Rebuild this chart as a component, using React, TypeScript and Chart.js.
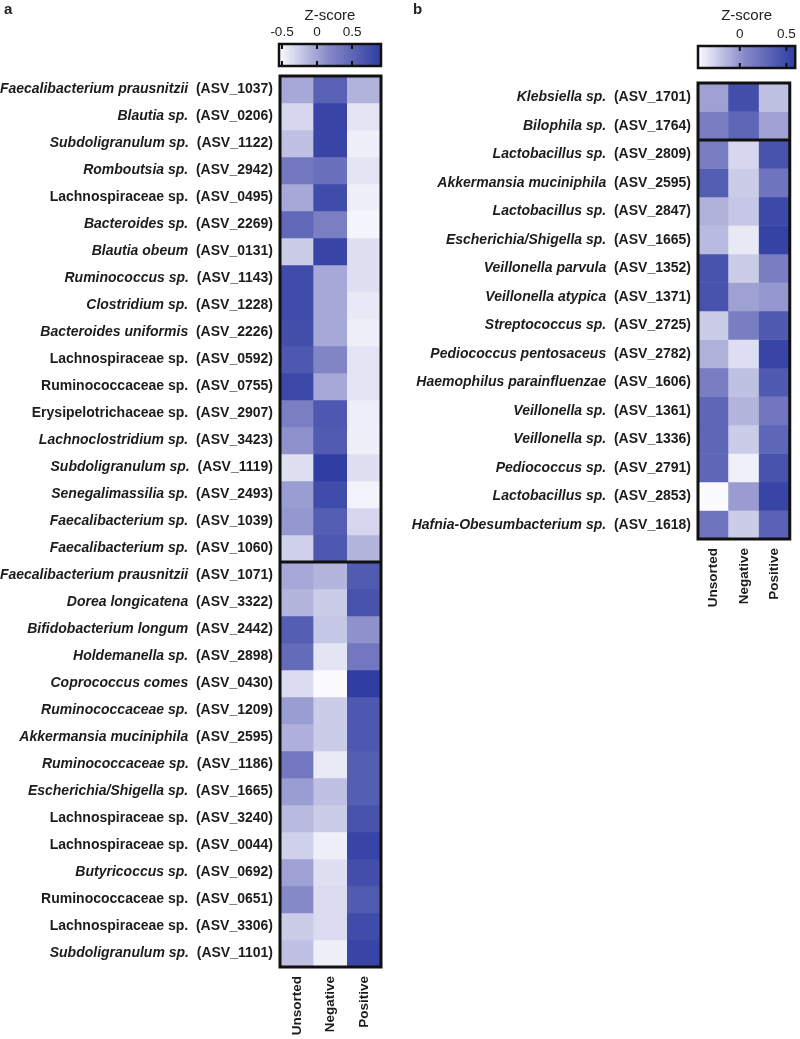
import React, { useEffect, useRef } from "react";
import { Chart, registerables } from "chart.js";

Chart.register(...registerables);

const FAMILY = '"Liberation Sans", Arial, Helvetica, sans-serif';
const COLUMNS = ["Unsorted", "Negative", "Positive"];

// ---------- Panel a ----------
const A_TAXA = [
  "Faecalibacterium prausnitzii", "Blautia sp.", "Subdoligranulum sp.", "Romboutsia sp.",
  "Lachnospiraceae sp.", "Bacteroides sp.", "Blautia obeum", "Ruminococcus sp.",
  "Clostridium sp.", "Bacteroides uniformis", "Lachnospiraceae sp.", "Ruminococcaceae sp.",
  "Erysipelotrichaceae sp.", "Lachnoclostridium sp.", "Subdoligranulum sp.", "Senegalimassilia sp.",
  "Faecalibacterium sp.", "Faecalibacterium sp.", "Faecalibacterium prausnitzii", "Dorea longicatena",
  "Bifidobacterium longum", "Holdemanella sp.", "Coprococcus comes", "Ruminococcaceae sp.",
  "Akkermansia muciniphila", "Ruminococcaceae sp.", "Escherichia/Shigella sp.", "Lachnospiraceae sp.",
  "Lachnospiraceae sp.", "Butyricoccus sp.", "Ruminococcaceae sp.", "Lachnospiraceae sp.",
  "Subdoligranulum sp.",
];
const A_ASV = [
  "1037", "0206", "1122", "2942", "0495", "2269", "0131", "1143", "1228", "2226", "0592",
  "0755", "2907", "3423", "1119", "2493", "1039", "1060", "1071", "3322", "2442", "2898",
  "0430", "1209", "2595", "1186", "1665", "3240", "0044", "0692", "0651", "3306", "1101",
];
const A_ITALIC = [
  1, 1, 1, 1, 0, 1, 1, 1, 1, 1, 0, 0, 0, 1, 1, 1, 1, 1, 1, 1, 1, 1, 1, 1, 1, 1, 1, 0, 0, 1, 0, 0, 1,
];
const A_UNSORTED = [
  -0.03, -0.32, -0.18, 0.33, -0.03, 0.48, -0.25, 0.77, 0.77, 0.74, 0.65, 0.8, 0.26, 0.11, -0.37,
  0.04, 0.07, -0.28, -0.03, -0.11, 0.59, 0.45, -0.35, 0.04, -0.08, 0.33, 0.04, -0.14, -0.28, 0.01,
  0.16, -0.25, -0.18,
];
const A_NEGATIVE = [
  0.55, 0.84, 0.84, 0.4, 0.77, 0.26, 0.84, -0.03, -0.03, -0.03, 0.19, -0.03, 0.65, 0.62, 0.91,
  0.77, 0.59, 0.65, -0.11, -0.25, -0.22, -0.4, -0.54, -0.25, -0.25, -0.44, -0.18, -0.25, -0.47,
  -0.37, -0.35, -0.35, -0.47,
];
const A_POSITIVE = [
  -0.1, -0.4, -0.47, -0.4, -0.47, -0.5, -0.37, -0.37, -0.43, -0.47, -0.4, -0.4, -0.46, -0.47,
  -0.37, -0.49, -0.32, -0.11, 0.62, 0.7, 0.11, 0.33, 0.91, 0.65, 0.65, 0.59, 0.59, 0.7, 0.84,
  0.74, 0.62, 0.77, 0.84,
];
const A_SPLIT = 18;
const A_RANGE = [-0.543, 0.914];
const A_TICKS = [-0.5, 0, 0.5];

// ---------- Panel b ----------
const B_TAXA = [
  "Klebsiella sp.", "Bilophila sp.", "Lactobacillus sp.", "Akkermansia muciniphila",
  "Lactobacillus sp.", "Escherichia/Shigella sp.", "Veillonella parvula", "Veillonella atypica",
  "Streptococcus sp.", "Pediococcus pentosaceus", "Haemophilus parainfluenzae", "Veillonella sp.",
  "Veillonella sp.", "Pediococcus sp.", "Lactobacillus sp.", "Hafnia-Obesumbacterium sp.",
];
const B_ASV = [
  "1701", "1764", "2809", "2595", "2847", "1665", "1352", "1371", "2725", "2782", "1606", "1361",
  "1336", "2791", "2853", "1618",
];
const B_ITALIC = [1, 1, 1, 1, 1, 1, 1, 1, 1, 1, 1, 1, 1, 1, 1, 1];
const B_UNSORTED = [
  -0.05, 0.13, 0.13, 0.37, -0.12, -0.16, 0.44, 0.44, -0.24, -0.12, 0.13, 0.3, 0.3, 0.3, -0.45, 0.2,
];
const B_NEGATIVE = [
  0.47, 0.3, -0.29, -0.24, -0.22, -0.37, -0.24, -0.05, 0.13, -0.32, -0.19, -0.14, -0.24, -0.4,
  -0.03, -0.24,
];
const B_POSITIVE = [
  -0.19, -0.05, 0.44, 0.2, 0.51, 0.56, 0.13, -0.01, 0.39, 0.54, 0.39, 0.18, 0.3, 0.44, 0.54, 0.33,
];
const B_SPLIT = 2;
const B_RANGE = [-0.448, 0.594];
const B_TICKS = [0, 0.5];

// ---------- colour map ----------
const STOPS: [number, number[]][] = [
  [0, [251, 251, 255]],
  [0.5, [130, 133, 198]],
  [1, [48, 62, 163]],
];
function colorAt(t: number): string {
  const tt = Math.max(0, Math.min(1, t));
  for (let i = 0; i < STOPS.length - 1; i++) {
    const [t0, c0] = STOPS[i];
    const [t1, c1] = STOPS[i + 1];
    if (tt <= t1) {
      const f = (tt - t0) / (t1 - t0);
      const c = c0.map((v, k) => Math.round(v + (c1[k] - v) * f));
      return `rgb(${c[0]},${c[1]},${c[2]})`;
    }
  }
  const c = STOPS[STOPS.length - 1][1];
  return `rgb(${c[0]},${c[1]},${c[2]})`;
}
function zColor(z: number, range: number[]): string {
  return colorAt((z - range[0]) / (range[1] - range[0]));
}

const REG = `bold 14px ${FAMILY}`;
const ITAL = `italic bold 14px ${FAMILY}`;

type HeatCfg = {
  taxa: string[];
  asv: string[];
  italic: number[];
  cols: number[][];
  split: number;
  range: number[];
  padding: { left: number; right: number; top: number };
  axisHeight: number;
};

function makeHeatmap(canvas: HTMLCanvasElement, cfg: HeatCfg) {
  const n = cfg.taxa.length;
  const decor = {
    id: "heatDecor",
    afterDraw(chart: any) {
      const { ctx, chartArea: ca } = chart;
      const y = chart.scales.y;
      ctx.save();
      ctx.textBaseline = "middle";
      ctx.fillStyle = "#1c1c1c";
      const xr = ca.left - 7;
      cfg.taxa.forEach((name, i) => {
        const yy = y.getPixelForValue(i + 0.5);
        const tail = `  (ASV_${cfg.asv[i]})`;
        ctx.font = REG;
        ctx.textAlign = "right";
        const w = ctx.measureText(tail).width;
        ctx.fillText(tail, xr, yy);
        ctx.font = cfg.italic[i] ? ITAL : REG;
        ctx.fillText(name, xr - w, yy);
      });
      ctx.strokeStyle = "#111";
      ctx.lineWidth = 3;
      ctx.strokeRect(ca.left, ca.top, ca.right - ca.left, ca.bottom - ca.top);
      const ys = y.getPixelForValue(cfg.split);
      ctx.beginPath();
      ctx.moveTo(ca.left, ys);
      ctx.lineTo(ca.right, ys);
      ctx.stroke();
      ctx.restore();
    },
  };
  return new Chart(canvas, {
    type: "bar",
    data: {
      labels: COLUMNS,
      datasets: cfg.taxa.map((_, i) => ({
        data: [1, 1, 1],
        backgroundColor: cfg.cols.map((col) => zColor(col[i], cfg.range)),
        borderWidth: 0,
        barPercentage: 1,
        categoryPercentage: 1,
      })),
    },
    options: {
      animation: false,
      responsive: false,
      events: [],
      layout: { padding: { left: cfg.padding.left, right: cfg.padding.right, top: cfg.padding.top, bottom: 0 } },
      plugins: { legend: { display: false }, tooltip: { enabled: false } },
      scales: {
        x: {
          type: "category",
          stacked: true,
          grid: { display: false, drawTicks: false },
          border: { display: false },
          afterFit: (s: any) => {
            s.height = cfg.axisHeight;
          },
          ticks: {
            minRotation: 90,
            maxRotation: 90,
            padding: 9,
            color: "#1c1c1c",
            font: { family: FAMILY, size: 13.5, weight: "bold" },
          },
        },
        y: {
          type: "linear",
          stacked: true,
          min: 0,
          max: n,
          reverse: true,
          display: false,
        },
      },
    },
    plugins: [decor],
  } as any);
}

type CbCfg = {
  range: number[];
  ticks: number[];
  padding: { left: number; right: number; bottom: number };
  axisHeight: number;
};

function makeColorbar(canvas: HTMLCanvasElement, cfg: CbCfg) {
  const decor = {
    id: "cbDecor",
    afterDraw(chart: any) {
      const { ctx, chartArea: ca } = chart;
      const x = chart.scales.x;
      ctx.save();
      ctx.strokeStyle = "#111";
      ctx.lineWidth = 2;
      cfg.ticks.forEach((v) => {
        const px = x.getPixelForValue(v);
        ctx.beginPath();
        ctx.moveTo(px, ca.top);
        ctx.lineTo(px, ca.top + 5);
        ctx.moveTo(px, ca.bottom - 5);
        ctx.lineTo(px, ca.bottom);
        ctx.stroke();
      });
      ctx.lineWidth = 2.5;
      ctx.strokeRect(ca.left, ca.top, ca.right - ca.left, ca.bottom - ca.top);
      ctx.restore();
    },
  };
  return new Chart(canvas, {
    type: "bar",
    data: {
      labels: ["Z-score"],
      datasets: [
        {
          data: [[cfg.range[0], cfg.range[1]]],
          backgroundColor: (c: any) => {
            const ca = c.chart.chartArea;
            if (!ca) return "#ffffff";
            const g = c.chart.ctx.createLinearGradient(ca.left, 0, ca.right, 0);
            for (let s = 0; s <= 10; s++) g.addColorStop(s / 10, colorAt(s / 10));
            return g;
          },
          borderWidth: 0,
          barPercentage: 1,
          categoryPercentage: 1,
        },
      ],
    },
    options: {
      indexAxis: "y",
      animation: false,
      responsive: false,
      events: [],
      layout: { padding: { left: cfg.padding.left, right: cfg.padding.right, top: 0, bottom: cfg.padding.bottom } },
      plugins: { legend: { display: false }, tooltip: { enabled: false } },
      scales: {
        x: {
          type: "linear",
          position: "top",
          min: cfg.range[0],
          max: cfg.range[1],
          grid: { display: false, drawTicks: false },
          border: { display: false },
          afterBuildTicks: (s: any) => {
            s.ticks = cfg.ticks.map((v) => ({ value: v }));
          },
          afterFit: (s: any) => {
            s.height = cfg.axisHeight;
          },
          ticks: {
            padding: 4,
            autoSkip: false,
            maxRotation: 0,
            color: "#222",
            font: { family: FAMILY, size: 13.5 },
            callback: (v: any) => String(v),
          },
          title: {
            display: true,
            text: "Z-score",
            color: "#222",
            font: { family: FAMILY, size: 15 },
            padding: { top: 7, bottom: 0 },
          },
        },
        y: { display: false },
      },
    },
    plugins: [decor],
  } as any);
}

export default function App() {
  const heatA = useRef<HTMLCanvasElement>(null);
  const heatB = useRef<HTMLCanvasElement>(null);
  const cbA = useRef<HTMLCanvasElement>(null);
  const cbB = useRef<HTMLCanvasElement>(null);

  useEffect(() => {
    const charts = [
      makeHeatmap(heatA.current!, {
        taxa: A_TAXA,
        asv: A_ASV,
        italic: A_ITALIC,
        cols: [A_UNSORTED, A_NEGATIVE, A_POSITIVE],
        split: A_SPLIT,
        range: A_RANGE,
        padding: { left: 280, right: 19, top: 76 },
        axisHeight: 1039 - 967,
      }),
      makeHeatmap(heatB.current!, {
        taxa: B_TAXA,
        asv: B_ASV,
        italic: B_ITALIC,
        cols: [B_UNSORTED, B_NEGATIVE, B_POSITIVE],
        split: B_SPLIT,
        range: B_RANGE,
        padding: { left: 298, right: 2, top: 83 },
        axisHeight: 620 - 539,
      }),
      makeColorbar(cbA.current!, {
        range: A_RANGE,
        ticks: A_TICKS,
        padding: { left: 39, right: 19, bottom: 4 },
        axisHeight: 44,
      }),
      makeColorbar(cbB.current!, {
        range: B_RANGE,
        ticks: B_TICKS,
        padding: { left: 58, right: 2, bottom: 4 },
        axisHeight: 46,
      }),
    ];
    return () => charts.forEach((c) => c.destroy());
  }, []);

  const abs = (l: number, t: number, w: number, h: number): React.CSSProperties => ({
    position: "absolute",
    left: l,
    top: t,
    width: w,
    height: h,
  });
  const letter: React.CSSProperties = {
    position: "absolute",
    fontFamily: FAMILY,
    fontWeight: "bold",
    fontSize: 15,
    lineHeight: "15px",
    color: "#222",
  };

  return (
    <div style={{ position: "fixed", left: 0, top: 0, width: 800, height: 1039, background: "#fff", overflow: "hidden" }}>
      <canvas ref={heatA} width={400} height={1039} style={abs(0, 0, 400, 1039)} />
      <canvas ref={heatB} width={400} height={620} style={abs(400, 0, 400, 620)} />
      <canvas ref={cbA} width={160} height={70} style={abs(240, 0, 160, 70)} />
      <canvas ref={cbB} width={160} height={72} style={abs(640, 0, 160, 72)} />
      <div style={{ ...letter, left: 4, top: 1 }}>a</div>
      <div style={{ ...letter, left: 413, top: 1 }}>b</div>
    </div>
  );
}
